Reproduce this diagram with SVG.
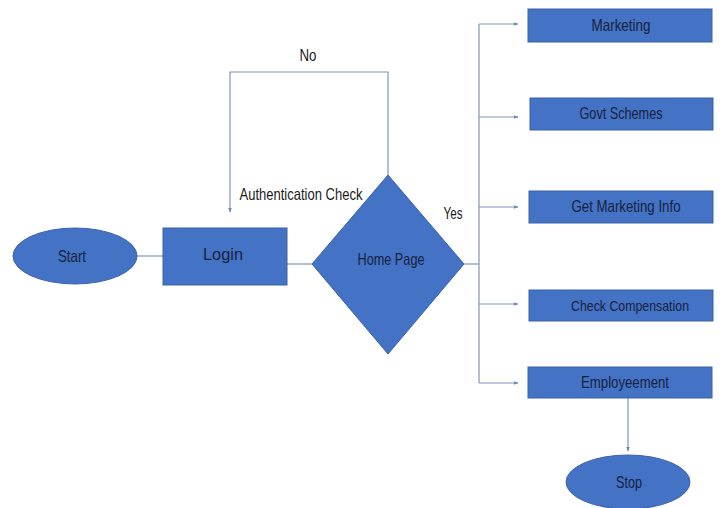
<svg xmlns="http://www.w3.org/2000/svg" width="721" height="508" viewBox="0 0 721 508">
<style>
.shape{fill:#4472C4;stroke:#3A62A8;stroke-width:1}
.lbl{font-family:"Liberation Sans",Arial,sans-serif;font-size:16.5px;fill:#16233F;text-anchor:middle}
.txt{font-family:"Liberation Sans",Arial,sans-serif;font-size:16.5px;fill:#1a1a1a;text-anchor:middle}
.conn{fill:none;stroke:#7F94B8;stroke-width:1.2}
</style>
<defs>
<marker id="arr" viewBox="0 0 10 10" refX="9" refY="5" markerWidth="5" markerHeight="5" orient="auto" markerUnits="userSpaceOnUse">
<path d="M0,1 L10,5 L0,9 z" fill="#6F87B5"/>
</marker>
</defs>
<rect width="721" height="508" fill="#ffffff"/>
<g id="connectors">
<line class="conn" x1="137" y1="256" x2="163" y2="256"/>
<line class="conn" x1="287" y1="264" x2="312" y2="264"/>
<polyline class="conn" points="388,175 388,72 230,72 230,212" marker-end="url(#arr)"/>
<line class="conn" x1="464" y1="264" x2="479" y2="264"/>
<line class="conn" x1="479" y1="24" x2="479" y2="383"/>
<line class="conn" x1="479" y1="24" x2="518" y2="24" marker-end="url(#arr)"/>
<line class="conn" x1="479" y1="117" x2="518" y2="117" marker-end="url(#arr)"/>
<line class="conn" x1="479" y1="207" x2="518" y2="207" marker-end="url(#arr)"/>
<line class="conn" x1="479" y1="304" x2="518" y2="304" marker-end="url(#arr)"/>
<line class="conn" x1="479" y1="383" x2="518" y2="383" marker-end="url(#arr)"/>
<line class="conn" x1="628" y1="398" x2="628" y2="451" marker-end="url(#arr)"/>
<text class="txt" x="308" y="61" textLength="17" lengthAdjust="spacingAndGlyphs">No</text>
<text class="txt" x="301" y="200" textLength="123" lengthAdjust="spacingAndGlyphs">Authentication Check</text>
<text class="txt" x="453" y="219" textLength="19" lengthAdjust="spacingAndGlyphs">Yes</text>
</g>
<g id="start">
<ellipse class="shape" cx="75" cy="256" rx="62" ry="28"/>
<text class="lbl" x="72" y="262" textLength="28" lengthAdjust="spacingAndGlyphs">Start</text>
</g>
<g id="login">
<rect class="shape" x="163" y="228" width="124" height="57"/>
<text class="lbl" x="223" y="260" textLength="40" lengthAdjust="spacingAndGlyphs">Login</text>
</g>
<g id="homepage">
<polygon class="shape" points="388,175 464,264 388,354 312,264"/>
<text class="lbl" x="391" y="265" textLength="67" lengthAdjust="spacingAndGlyphs">Home Page</text>
</g>
<g id="marketing">
<rect class="shape" x="528" y="9" width="184" height="33"/>
<text class="lbl" x="621" y="31" textLength="59" lengthAdjust="spacingAndGlyphs">Marketing</text>
</g>
<g id="govt">
<rect class="shape" x="530" y="98" width="183" height="32"/>
<text class="lbl" x="621" y="119" textLength="83" lengthAdjust="spacingAndGlyphs">Govt Schemes</text>
</g>
<g id="getinfo">
<rect class="shape" x="529" y="191" width="184" height="32"/>
<text class="lbl" x="626" y="212" textLength="109" lengthAdjust="spacingAndGlyphs">Get Marketing Info</text>
</g>
<g id="compensation">
<rect class="shape" x="529" y="290" width="184" height="31"/>
<text class="lbl" x="630" y="311" style="font-size:15px" textLength="118" lengthAdjust="spacingAndGlyphs">Check Compensation</text>
</g>
<g id="employeement">
<rect class="shape" x="528" y="367" width="184" height="31"/>
<text class="lbl" x="625" y="388" textLength="88" lengthAdjust="spacingAndGlyphs">Employeement</text>
</g>
<g id="stop">
<ellipse class="shape" cx="628" cy="482" rx="62" ry="27"/>
<text class="lbl" x="629" y="488" textLength="26" lengthAdjust="spacingAndGlyphs">Stop</text>
</g>
</svg>
